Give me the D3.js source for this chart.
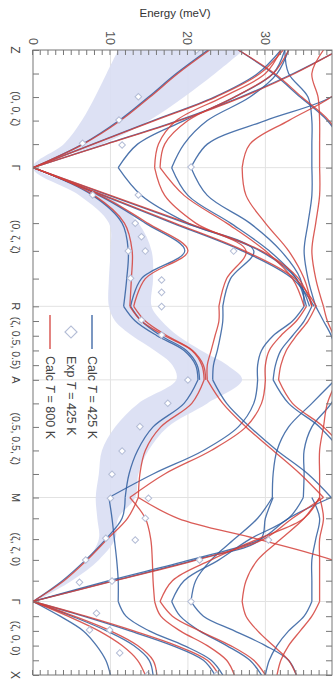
<!DOCTYPE html>
<html lang="en">
<head>
<meta charset="utf-8">
<title>Phonon dispersion</title>
<style>
  body { margin: 0; background: #fff; }
  svg text { font-family: "Liberation Sans", Arial, sans-serif; }
  .tick line { stroke: #777; }
  .domain { display: none; }
</style>
</head>
<body>
<div id="chart"></div>
<script src="https://cdn.jsdelivr.net/npm/d3@7"></script>
<script>
// path through the zone, distances in units of a*
var symLabels = ["Z", "Γ", "R", "A", "M", "Γ", "X"];
var symQ = [0, 0.8, 1.743, 2.243, 3.043, 3.75, 4.25];
var segLabels = ["(0, 0, ζ)", "(0, ζ, ζ)", "(ζ, 0.5, 0.5)", "(0.5, 0.5, ζ)", "(ζ, ζ, 0)", "(ζ, 0, 0)"];
var energyTicks = [0, 10, 20, 30];
var energyMax = 38.6;

// branches, energies (meV) at zeta = 0, .1, .2, .3, .4, .5 along each segment (path order)
var calc425 = [
  [[22.6, 18.5, 14.9, 11.1, 6.4, 0], [32, 29, 23.4, 15.5, 7.7, 0], [39.5, 33.6, 26.8, 18.7, 9.4, 0],
   [32.5, 31, 26, 19.5, 13.5, 11], [33, 31.5, 28, 22.5, 19.5, 17.9], [44, 42, 38.5, 30, 22.5, 20.4],
   [26.5, 31, 34.5, 38, 40, 41], [32.5, 33, 35.5, 36, 36, 36]],
  [[0, 7.7, 11.5, 12.3, 12.1, 11.7], [0, 8.5, 14.5, 19.6, 14, 12.6], [0, 9.8, 19.7, 29.3, 34, 35.7],
   [0, 9, 18, 27, 33.5, 36.3], [11, 14, 20, 28.5, 25.5, 24.5], [17.9, 20, 25.5, 30.5, 34, 35.3],
   [20.4, 22.5, 28, 32, 34.5, 35], [36, 36, 35.5, 35, 35.5, 36.5]],
  [[11.7, 13.2, 16, 19.5, 21, 21.3], [12.6, 14, 16.5, 19.8, 21.2, 21.5], [24.5, 24.5, 24.2, 23.8, 23.3, 23.2],
   [35, 33.5, 31, 29.5, 29, 29], [36, 35, 33.5, 32, 31.3, 31], [36.5, 37.5, 38.5, 39, 39, 39]],
  [[21.3, 19.5, 15.5, 13.5, 12.4, 11.9], [23.2, 25, 28, 31.5, 35.5, 38.5], [29, 28.5, 26.5, 22, 15.5, 9.8],
   [31, 33, 37, 39.5, 40, 40], [39, 36, 33, 31.5, 31, 30.9], [40, 38.5, 36, 35, 35, 34.9]],
  [[11.9, 11.5, 9.4, 6.8, 3.8, 0], [9.8, 10.2, 10.5, 10.8, 11, 11], [31, 30, 29.4, 20.9, 10.4, 0],
   [38.5, 33, 29.4, 20.3, 9.8, 0], [34.9, 33, 28, 24, 19.5, 17.9], [30.9, 29, 26, 23, 21, 20.4],
   [36, 37, 36.5, 36, 36, 36]],
  [[0, 3.5, 6.5, 8.2, 9.4, 10], [0, 5, 9.5, 13, 15, 15.5], [0, 6.5, 12.5, 18, 22, 23.5],
   [11, 12, 15, 19.5, 23, 24.5], [17.9, 19, 21.5, 25, 28, 29.5], [20.4, 22, 26, 30, 33, 34],
   [36, 35, 33, 31.5, 30.5, 30]]
];
var calc800 = [
  [[22.8, 18.7, 15.1, 11.3, 6.5, 0], [32.3, 29.3, 23.6, 15.7, 7.8, 0], [39.5, 33.8, 27, 18.9, 9.5, 0],
   [32, 30, 24.5, 18.5, 16.2, 15.7], [33, 31, 26, 20, 17, 16.4], [26.5, 31.2, 34.7, 38.2, 40, 41],
   [45, 42, 38.5, 33, 28, 27], [37.5, 36, 36.8, 37, 37, 37]],
  [[0, 7.9, 11.8, 12.8, 12.7, 12.5], [0, 8.7, 14.8, 20, 14.5, 13], [0, 10, 20, 29.5, 34.3, 36],
   [0, 9.2, 18.3, 27.3, 33.8, 36.6], [15.7, 17, 21, 27.5, 25, 24], [16.4, 19.5, 25, 30, 33.5, 35],
   [27, 27.5, 30, 33, 35, 36], [37, 37, 36.5, 36, 36.5, 37.5]],
  [[12.5, 14, 17, 20.5, 21.8, 22.1], [13, 14.5, 17.3, 20.6, 22, 22.3], [24, 24, 23.5, 23, 22.5, 22.5],
   [35.3, 34, 32, 30.5, 30, 30], [36.5, 35.5, 34, 32.7, 32, 31.7], [37.5, 38, 38.8, 39.2, 39.3, 39.3]],
  [[22.1, 20.5, 16.5, 14.5, 13.8, 13.6], [22.5, 24.5, 27.5, 31, 34.5, 37.5], [30, 29.5, 27.5, 23, 17, 12.5],
   [31.7, 33.5, 37.5, 40, 40, 40], [39.3, 38, 37.5, 37, 37, 37]],
  [[13.6, 12.2, 9.6, 7.0, 4.0, 0], [12.5, 14.5, 15.2, 15.4, 15.5, 15.7], [13.6, 18.7, 29, 38.6, 45, 50],
   [37.5, 33.5, 29.8, 21.2, 10.6, 0], [37, 35, 29, 23, 18, 16.4], [37, 35, 32, 29, 27.5, 27],
   [37, 37.5, 37, 37, 37, 37]],
  [[0, 4.5, 8.5, 11.5, 13.5, 14.5], [0, 5.3, 10, 13.5, 15.5, 16], [0, 6.8, 13, 18.5, 22.5, 24],
   [15.7, 16.5, 19, 22.5, 25, 26], [16.4, 18, 21.5, 25.5, 28.5, 30], [27, 27.5, 29, 31, 33, 34],
   [37, 36, 34.5, 33, 32, 31.5]]
];

// measured linewidth band (lower / upper edge), first five segments
var bandLow = [
  [11, 9.5, 8, 6.3, 4, 0], [0, 6, 9.8, 10, 9.8, 9.8], [9.8, 10.6, 12.8, 15.7, 18, 18.5],
  [18.5, 13.6, 10.6, 8.9, 8.5, 8.1], [8.1, 8.3, 8.5, 7, 4, 0]
];
var bandHigh = [
  [27.2, 23.5, 19.5, 15, 9, 0.5], [0.5, 9.5, 13.6, 15.3, 15.5, 15.3], [15.3, 16.6, 18.7, 21.7, 25.1, 27],
  [27, 22.5, 17.4, 14.9, 13.6, 13.2], [13.2, 11, 10.6, 8.5, 5, 0.3]
];

// experiment, T = 425 K
var expQ = [0, 0.318, 0.476, 0.634, 0.646, 0.796, 0.986, 0.986, 1.178, 1.27, 1.367, 1.367, 1.367, 1.552, 1.564,
  1.648, 1.745, 1.836, 1.938, 2.244, 2.402, 2.561, 2.727, 2.885, 3.048, 3.048, 3.184, 3.32, 3.332, 3.468,
  3.468, 3.332, 3.62, 3.611, 3.751, 3.83, 3.944, 3.944, 4.1, 4.25, 4.25];
var expE = [21.1, 13.6, 11.1, 6.4, 11.5, 20.4, 7.7, 13.6, 13.2, 14.0, 12.3, 14.5, 25.9, 12.6, 16.6,
  16.6, 16.6, 14.0, 16.6, 20.0, 17.4, 13.8, 11.5, 10.2, 10.0, 14.9, 14.5, 9.4, 13.2, 6.8,
  21.5, 30.4, 6.0, 10.2, 20.4, 8.2, 7.3, 9.9, 11.2, 23.7, 14.8];

var blue = "#2f5d9f", red = "#d33f3a";

// plot box on screen; the chart is drawn in its own frame and turned 90 degrees
var boxLeft = 33, boxTop = 50, boxRight = 332, boxBottom = 675;
var pathLen = boxBottom - boxTop, eLen = boxRight - boxLeft;

var svg = d3.select("#chart").append("svg").attr("width", 336).attr("height", 700);

svg.append("text").attr("x", 175).attr("y", 17).attr("text-anchor", "middle")
  .style("font-size", "11.5px").style("fill", "#333").text("Energy (meV)");

var g = svg.append("g").attr("transform", "translate(" + boxRight + "," + boxTop + ") rotate(90)");

var x = d3.scaleLinear().domain([0, symQ[symQ.length - 1]]).range([0, pathLen]);
var y = d3.scaleLinear().domain([0, energyMax]).range([eLen, 0]);

function nodeQ(s, i) { return symQ[s] + (symQ[s + 1] - symQ[s]) * i / 5; }
var nodes = [];
for (var s = 0; s < 6; s++) for (var i = (s ? 1 : 0); i <= 5; i++) nodes.push(nodeQ(s, i));

g.append("clipPath").attr("id", "clip").append("rect")
  .attr("width", pathLen).attr("height", eLen);

// grid
g.selectAll(".gx").data(symQ.slice(1, 6)).enter().append("line")
  .attr("x1", d => x(d)).attr("x2", d => x(d)).attr("y1", 0).attr("y2", eLen)
  .attr("stroke", "#e2e2e2").attr("stroke-width", 1);
g.selectAll(".gy").data(energyTicks.slice(1)).enter().append("line")
  .attr("x1", 0).attr("x2", pathLen).attr("y1", d => y(d)).attr("y2", d => y(d))
  .attr("stroke", "#e2e2e2").attr("stroke-width", 1);

var plot = g.append("g").attr("clip-path", "url(#clip)");

// band
var bandPts = [];
bandLow.forEach(function (seg, s) {
  seg.forEach(function (v, i) {
    if (s > 0 && i === 0) return;
    bandPts.push({ q: nodeQ(s, i), lo: v, hi: bandHigh[s][i] });
  });
});
plot.append("path").datum(bandPts)
  .attr("d", d3.area().curve(d3.curveCatmullRom)
    .x(d => x(d.q)).y0(d => y(d.lo)).y1(d => y(d.hi)))
  .attr("fill", "#d9def3").attr("fill-opacity", 0.9);

// branches
var line = d3.line().curve(d3.curveCatmullRom).x(d => x(d[0])).y(d => y(d[1]));
function drawBranches(data, color) {
  data.forEach(function (seg, s) {
    seg.forEach(function (br) {
      plot.append("path")
        .attr("d", line(br.map((e, i) => [nodeQ(s, i), e])))
        .attr("fill", "none").attr("stroke", color)
        .attr("stroke-width", 1.3).attr("stroke-opacity", 0.85);
    });
  });
}
drawBranches(calc425, blue);
drawBranches(calc800, red);

// experimental points
var diamond = d3.symbol().type(d3.symbolSquare).size(22);
plot.selectAll(".exp").data(expQ).enter().append("path")
  .attr("d", diamond)
  .attr("transform", (d, i) => "translate(" + x(d) + "," + y(expE[i]) + ") rotate(45)")
  .attr("fill", "#fff").attr("stroke", "#b4bdd6").attr("stroke-width", 1);

// frame
g.append("rect").attr("width", pathLen).attr("height", eLen)
  .attr("fill", "none").attr("stroke", "#777").attr("stroke-width", 1);

// energy axis (top of screen) with labels, and the opposite side without
var eAxis = g.append("g")
  .call(d3.axisLeft(y).tickValues(d3.range(0, 39)).tickSize(-5).tickPadding(5)
    .tickFormat(d => energyTicks.indexOf(d) >= 0 ? d : ""));
eAxis.selectAll("text").style("font-size", "12.5px").style("fill", "#555");
g.append("g").attr("transform", "translate(" + pathLen + ",0)")
  .call(d3.axisRight(y).tickValues(d3.range(0, 39)).tickSize(-5).tickFormat(""));

// path axis ticks on both sides
g.append("g").attr("transform", "translate(0," + eLen + ")")
  .call(d3.axisBottom(x).tickValues(nodes).tickSize(-6).tickFormat(""));
g.append("g")
  .call(d3.axisTop(x).tickValues(nodes).tickSize(-6).tickFormat(""));

// path labels
var lab = g.append("g").attr("transform", "translate(0," + (eLen + 13) + ")")
  .style("font-size", "10.5px").style("fill", "#444");
lab.selectAll(".sym").data(symLabels).enter().append("text")
  .attr("x", (d, i) => x(symQ[i])).attr("dy", "0.75em").attr("text-anchor", "middle")
  .style("font-size", (d, i) => (i === 0 || i === 6) ? "12px" : "11px").text(d => d);
lab.selectAll(".seg").data(segLabels).enter().append("text")
  .attr("x", (d, i) => x((symQ[i] + symQ[i + 1]) / 2)).attr("dy", "0.75em")
  .attr("text-anchor", "middle").text(d => d);

// legend
var leg = g.append("g").attr("transform", "translate(265,240)").style("font-size", "12.5px").style("fill", "#444");
var legItems = [
  { kind: "line", color: blue, label: "Calc", temp: "425 K" },
  { kind: "diamond", label: "Exp", temp: "425 K" },
  { kind: "line", color: red, label: "Calc", temp: "800 K" }
];
legItems.forEach(function (it, k) {
  var row = leg.append("g").attr("transform", "translate(0," + (k * 21) + ")");
  if (it.kind === "line") {
    row.append("line").attr("x1", 0).attr("x2", 34).attr("stroke", it.color)
      .attr("stroke-width", 1.6).attr("stroke-opacity", 0.8);
  } else {
    row.append("path").attr("d", d3.symbol().type(d3.symbolSquare).size(72))
      .attr("transform", "translate(17,0) rotate(45)")
      .attr("fill", "#fff").attr("stroke", "#b4bdd6").attr("stroke-width", 1.2);
  }
  var t = row.append("text").attr("x", 41).attr("dy", "0.35em");
  t.append("tspan").text(it.label + " ");
  t.append("tspan").style("font-style", "italic").text("T");
  t.append("tspan").text(" = " + it.temp);
});
</script>
</body>
</html>
